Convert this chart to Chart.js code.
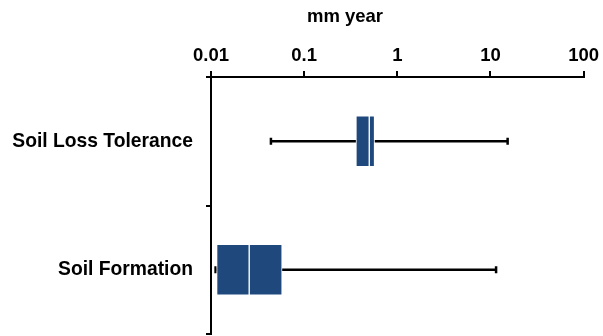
<!DOCTYPE html>
<html>
<head>
<meta charset="utf-8">
<script src="https://cdn.jsdelivr.net/npm/chart.js@4"></script>
<style>
	html, body { margin: 0; padding: 0; background: #ffffff; }
	#chart { display: block; }
</style>
</head>
<body>
<canvas id="chart" width="603" height="336"></canvas>
<script>
// values, mm per year (log axis)
const categories = ['Soil Loss Tolerance', 'Soil Formation'];
const whiskerMin = [0.044, 0.0112];
const boxQ1 = [0.36, 0.0115];
const boxMedian = [0.5, 0.0257];
const boxQ3 = [0.57, 0.058];
const whiskerMax = [15.3, 11.5];
const xTicks = [0.01, 0.1, 1, 10, 100];
const unitTitle = 'mm year';

const boxColor = '#1F497D';
const font = 'Liberation Sans, Arial, sans-serif';

let whiskers = categories.map((c, i) => [whiskerMin[i], whiskerMax[i]]);
let lowerBox = categories.map((c, i) => [boxQ1[i], boxMedian[i]]);
let upperBox = categories.map((c, i) => [boxMedian[i], boxQ3[i]]);
let caps = [];
categories.forEach((c, i) => {
	caps.push({x: whiskerMin[i], y: c});
	caps.push({x: whiskerMax[i], y: c});
});

// axis title sits left of the axis centre in the reference
const unitTitlePlugin = {
	id: 'unitTitle',
	afterDraw(chart) {
		let ctx = chart.ctx;
		ctx.save();
		ctx.font = 'bold 18.5px ' + font;
		ctx.fillStyle = '#000';
		ctx.textAlign = 'center';
		ctx.textBaseline = 'middle';
		ctx.fillText(unitTitle, 345, 17);
		ctx.restore();
	}
};

new Chart(document.getElementById('chart'), {
	type: 'bar',
	data: {
		labels: categories,
		datasets: [
			{
				data: whiskers,
				backgroundColor: '#000',
				barThickness: 2,
				grouped: false,
				order: 3,
			},
			{
				data: lowerBox,
				backgroundColor: boxColor,
				borderColor: '#ffffff',
				borderWidth: 1,
				borderSkipped: false,
				barThickness: 51,
				grouped: false,
				order: 1,
			},
			{
				data: upperBox,
				backgroundColor: boxColor,
				borderColor: '#ffffff',
				borderWidth: 1,
				borderSkipped: false,
				barThickness: 51,
				grouped: false,
				order: 1,
			},
			{
				type: 'scatter',
				data: caps,
				pointStyle: 'line',
				rotation: 90,
				radius: 3.5,
				borderWidth: 2.5,
				borderColor: '#000',
				order: 2,
			},
		]
	},
	options: {
		indexAxis: 'y',
		responsive: false,
		animation: false,
		devicePixelRatio: 1,
		layout: {
			autoPadding: false,
			padding: {top: 0, right: 18, bottom: 2, left: 0}
		},
		plugins: {
			legend: {display: false},
			tooltip: {enabled: false},
		},
		scales: {
			x: {
				type: 'logarithmic',
				position: 'top',
				min: 0.01,
				max: 100,
				afterBuildTicks: scale => {
					scale.ticks = xTicks.map(v => ({value: v}));
				},
				afterFit: scale => {
					scale.height = 77;
				},
				border: {display: true, color: '#000', width: 2},
				grid: {
					drawOnChartArea: false,
					drawTicks: true,
					tickLength: 6,
					color: '#000',
					lineWidth: 2,
				},
				ticks: {
					color: '#000',
					font: {family: font, size: 18.5, weight: 'bold'},
					padding: 4,
					maxRotation: 0,
					autoSkip: false,
					callback: v => String(v),
				},
			},
			y: {
				type: 'category',
				offset: true,
				afterFit: scale => {
					scale.width = 211;
					scale.paddingTop = 0;
					scale.paddingBottom = 0;
				},
				border: {display: true, color: '#000', width: 2},
				grid: {
					offset: true,
					drawOnChartArea: false,
					drawTicks: true,
					tickLength: 5,
					color: '#000',
					lineWidth: 2,
				},
				ticks: {
					color: '#000',
					font: {family: font, size: 19.3, weight: 'bold'},
					padding: 13,
				},
			},
		}
	},
	plugins: [unitTitlePlugin],
});
</script>
</body>
</html>
